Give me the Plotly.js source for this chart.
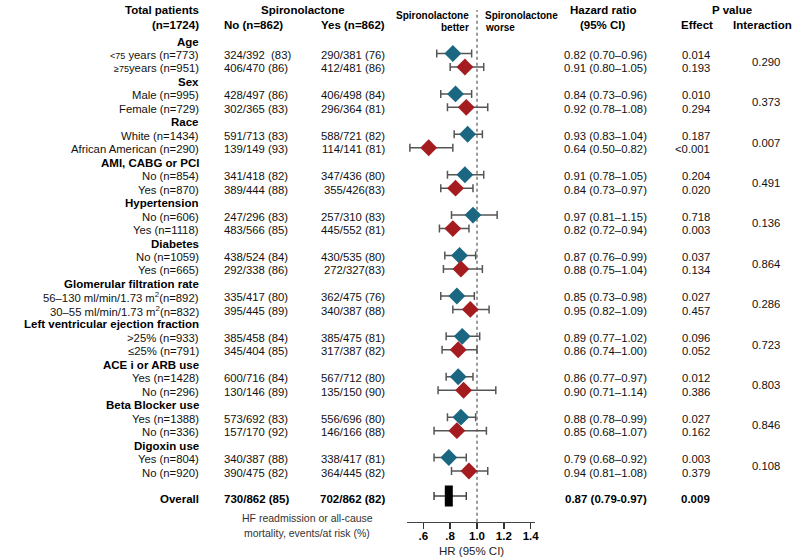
<!DOCTYPE html>
<html><head><meta charset="utf-8">
<script src="https://cdn.plot.ly/plotly-3.0.1.min.js"></script>
<style>html,body{margin:0;padding:0;background:#fff}#chart{width:800px;height:557px}</style>
</head><body><div id="chart"></div>
<script>
// ---------- data ----------
const groups = ["Age","Sex","Race","AMI, CABG or PCI","Hypertension","Diabetes",
  "Glomerular filtration rate","Left ventricular ejection fraction","ACE i or ARB use",
  "Beta Blocker use","Digoxin use"];
const subLabels = [
  "<span style='font-size:9px'>&lt;75</span> years (n=773)", "<span style='font-size:9px'>≥75</span>years (n=951)",
  "Male (n=995)", "Female (n=729)",
  "White (n=1434)", "African American (n=290)",
  "No (n=854)", "Yes (n=870)",
  "No (n=606)", "Yes (n=1118)",
  "No (n=1059)", "Yes (n=665)",
  "56–130 ml/min/1.73 m<sup>2</sup>(n=892)", "30–55 ml/min/1.73 m<sup>2</sup>(n=832)",
  ">25% (n=933)", "≤25% (n=791)",
  "Yes (n=1428)", "No (n=296)",
  "Yes (n=1388)", "No (n=336)",
  "Yes (n=804)", "No (n=920)"];
const noEvents = ["324/392  (83)","406/470 (86)","428/497 (86)","302/365 (83)","591/713 (83)","139/149 (93)",
  "341/418 (82)","389/444 (88)","247/296 (83)","483/566 (85)","438/524 (84)","292/338 (86)",
  "335/417 (80)","395/445 (89)","385/458 (84)","345/404 (85)","600/716 (84)","130/146 (89)",
  "573/692 (83)","157/170 (92)","340/387 (88)","390/475 (82)"];
const yesEvents = ["290/381 (76)","412/481 (86)","406/498 (84)","296/364 (81)","588/721 (82)","114/141 (81)",
  "347/436 (80)","355/426(83)","257/310 (83)","445/552 (81)","430/535 (80)","272/327(83)",
  "362/475 (76)","340/387 (88)","385/475 (81)","317/387 (82)","567/712 (80)","135/150 (90)",
  "556/696 (80)","146/166 (88)","338/417 (81)","364/445 (82)"];
const hr = [0.82,0.91,0.84,0.92,0.93,0.64,0.91,0.84,0.97,0.82,0.87,0.88,0.85,0.95,0.89,0.86,0.86,0.90,0.88,0.85,0.79,0.94];
const lo = [0.70,0.80,0.73,0.78,0.83,0.50,0.78,0.73,0.81,0.72,0.76,0.75,0.73,0.82,0.77,0.74,0.77,0.71,0.78,0.68,0.68,0.81];
const hi = [0.96,1.05,0.96,1.08,1.04,0.82,1.05,0.97,1.15,0.94,0.99,1.04,0.98,1.09,1.02,1.00,0.97,1.14,0.99,1.07,0.92,1.08];
const hrText = ["0.82 (0.70–0.96)","0.91 (0.80–1.05)","0.84 (0.73–0.96)","0.92 (0.78–1.08)","0.93 (0.83–1.04)",
  "0.64 (0.50–0.82)","0.91 (0.78–1.05)","0.84 (0.73–0.97)","0.97 (0.81–1.15)","0.82 (0.72–0.94)",
  "0.87 (0.76–0.99)","0.88 (0.75–1.04)","0.85 (0.73–0.98)","0.95 (0.82–1.09)","0.89 (0.77–1.02)",
  "0.86 (0.74–1.00)","0.86 (0.77–0.97)","0.90 (0.71–1.14)","0.88 (0.78–0.99)","0.85 (0.68–1.07)",
  "0.79 (0.68–0.92)","0.94 (0.81–1.08)"];
const pEffect = ["0.014","0.193","0.010","0.294","0.187","<0.001","0.204","0.020","0.718","0.003","0.037",
  "0.134","0.027","0.457","0.096","0.052","0.012","0.386","0.027","0.162","0.003","0.379"];
const pInteraction = ["0.290","0.373","0.007","0.491","0.136","0.864","0.286","0.723","0.803","0.846","0.108"];
// overall row (marker drawn as in the picture)
const overallNo = "730/862 (85)", overallYes = "702/862 (82)";
const overallHR = 0.79, overallLo = 0.68, overallHi = 0.92;
const overallText = "0.87 (0.79-0.97)", overallP = "0.009";
const tickVals = [0.6,0.8,1.0,1.2,1.4];
const tickText = [".6",".8","1.0","1.2","1.4"];

// ---------- layout helpers ----------
const W = 800, H = 557;
const FONT = "Liberation Sans, Arial, sans-serif";
const px = v => v / W;
const py = v => 1 - v / H;
const subRow = i => 3 * Math.floor(i / 2) + 1 + (i % 2);
const groupRow = g => 3 * g;
const overallRow = 34;
const TXT = -1.5; // text yshift

const ann = [];
function A(o) { ann.push(Object.assign({showarrow:false, yanchor:"middle", font:{family:FONT, size:11.3, color:"#111"}}, o)); }
function bold(size) { return {family:FONT, size:size, color:"#000", weight:"bold"}; }

// headers
A({text:"<b>Total patients</b>", x:px(201), xanchor:"right", xref:"paper", yref:"paper", y:py(10), font:bold(11.5)});
A({text:"<b>(n=1724)</b>", x:px(201), xanchor:"right", xref:"paper", yref:"paper", y:py(25), font:bold(11.5)});
A({text:"<b>Spironolactone</b>", x:px(303), xanchor:"center", xref:"paper", yref:"paper", y:py(10), font:bold(11.5)});
A({text:"<b>No (n=862)</b>", x:px(222), xanchor:"left", xref:"paper", yref:"paper", y:py(25), font:bold(11.5)});
A({text:"<b>Yes (n=862)</b>", x:px(387), xanchor:"right", xref:"paper", yref:"paper", y:py(25), font:bold(11.5)});
A({text:"<b>Spironolactone</b>", x:px(471), xanchor:"right", xref:"paper", yref:"paper", y:py(16), font:bold(10)});
A({text:"<b>better</b>", x:px(471), xanchor:"right", xref:"paper", yref:"paper", y:py(27), font:bold(10)});
A({text:"<b>Spironolactone</b>", x:px(483), xanchor:"left", xref:"paper", yref:"paper", y:py(16), font:bold(10)});
A({text:"<b>worse</b>", x:px(483), xanchor:"left", xref:"paper", yref:"paper", y:py(27), font:bold(10)});
A({text:"<b>Hazard ratio</b>", x:px(603), xanchor:"center", xref:"paper", yref:"paper", y:py(10), font:bold(11.5)});
A({text:"<b>(95% CI)</b>", x:px(603), xanchor:"center", xref:"paper", yref:"paper", y:py(25), font:bold(11.5)});
A({text:"<b>P value</b>", x:px(732), xanchor:"center", xref:"paper", yref:"paper", y:py(10), font:bold(11.5)});
A({text:"<b>Effect</b>", x:px(697), xanchor:"center", xref:"paper", yref:"paper", y:py(25), font:bold(11.5)});
A({text:"<b>Interaction</b>", x:px(762), xanchor:"center", xref:"paper", yref:"paper", y:py(25), font:bold(11.5)});

// groups
groups.forEach((g, k) => {
  A({text:"<b>"+g+"</b>", x:px(201), xanchor:"right", xref:"paper", yref:"y", y:groupRow(k), yshift:TXT, font:bold(11.5)});
  A({text:pInteraction[k], x:px(766), xanchor:"center", xref:"paper", yref:"y", y:groupRow(k)+1.5, yshift:TXT});
});
// sub rows
subLabels.forEach((s, i) => {
  const r = subRow(i);
  A({text:s, x:px(201), xanchor:"right", xref:"paper", yref:"y", y:r, yshift:TXT});
  A({text:noEvents[i], x:px(222), xanchor:"left", xref:"paper", yref:"y", y:r, yshift:TXT});
  A({text:yesEvents[i], x:px(387), xanchor:"right", xref:"paper", yref:"y", y:r, yshift:TXT});
  A({text:hrText[i], x:px(562), xanchor:"left", xref:"paper", yref:"y", y:r, yshift:TXT});
  A({text:pEffect[i].replace("<","&lt;"), x:px(712), xanchor:"right", xref:"paper", yref:"y", y:r, yshift:TXT});
});
// overall
A({text:"<b>Overall</b>", x:px(201), xanchor:"right", xref:"paper", yref:"y", y:overallRow, yshift:TXT, font:bold(11.5)});
A({text:"<b>"+overallNo+"</b>", x:px(222), xanchor:"left", xref:"paper", yref:"y", y:overallRow, yshift:TXT, font:bold(11.5)});
A({text:"<b>"+overallYes+"</b>", x:px(387), xanchor:"right", xref:"paper", yref:"y", y:overallRow, yshift:TXT, font:bold(11.5)});
A({text:"<b>"+overallText+"</b>", x:px(563), xanchor:"left", xref:"paper", yref:"y", y:overallRow, yshift:TXT, font:bold(11.5)});
A({text:"<b>"+overallP+"</b>", x:px(712), xanchor:"right", xref:"paper", yref:"y", y:overallRow, yshift:TXT, font:bold(11.5)});
// footnote
A({text:"HF readmission or all-cause", x:px(307), xanchor:"center", xref:"paper", yref:"paper", y:py(518), font:{family:FONT, size:10.5, color:"#333"}});
A({text:"mortality, events/at risk (%)", x:px(307), xanchor:"center", xref:"paper", yref:"paper", y:py(533), font:{family:FONT, size:10.5, color:"#333"}});
// axis title
A({text:"HR (95% CI)", x:px(471), xanchor:"center", xref:"paper", yref:"paper", y:py(551), font:{family:FONT, size:11.5, color:"#222"}});

// ---------- traces ----------
function trace(idx, color) {
  return {
    type:"scatter", mode:"markers", hoverinfo:"skip",
    x: idx.map(i => hr[i]), y: idx.map(i => subRow(i)),
    error_x: {type:"data", symmetric:false,
      array: idx.map(i => hi[i] - hr[i]), arrayminus: idx.map(i => hr[i] - lo[i]),
      color:"#555", thickness:1.5, width:4},
    marker: {symbol:"diamond", size:13, color:color, line:{width:0}}
  };
}
const firstIdx = hr.map((_, i) => i).filter(i => i % 2 === 0);
const secondIdx = hr.map((_, i) => i).filter(i => i % 2 === 1);
const traces = [
  trace(firstIdx, "#1b6781"),
  trace(secondIdx, "#a51c20"),
  { type:"scatter", mode:"markers", hoverinfo:"skip",
    x:[overallHR], y:[overallRow - 0.15],
    error_x:{type:"data", symmetric:false, array:[overallHi - overallHR], arrayminus:[overallHR - overallLo],
      color:"#444", thickness:1.5, width:4},
    marker:{symbol:"line-ns-open", size:15, color:"#000", line:{width:8, color:"#000"}} }
];

// ---------- layout ----------
const axisBottomPx = 521.7;
const rowPx = 13.47, row0Px = 40;
const layout = {
  width:W, height:H, margin:{l:0, r:0, t:0, b:0},
  paper_bgcolor:"#fff", plot_bgcolor:"rgba(0,0,0,0)",
  showlegend:false,
  font:{family:FONT, color:"#111"},
  xaxis:{
    domain:[406.7/W, 535/W],
    range:[0.4763, 1.432],
    tickmode:"array", tickvals:tickVals, ticktext:tickText,
    ticks:"outside", ticklen:6, tickwidth:1.5, tickcolor:"#333",
    ticklabelstandoff:-3,
    tickfont:{family:FONT, size:11.5, color:"#000", weight:"bold"},
    showline:true, linecolor:"#444", linewidth:1.5,
    showgrid:false, zeroline:false, fixedrange:true
  },
  yaxis:{
    domain:[(H - axisBottomPx)/H, 1],
    range:[(axisBottomPx - row0Px)/rowPx, (0 - row0Px)/rowPx],
    visible:false, showgrid:false, zeroline:false, fixedrange:true
  },
  shapes:[{type:"line", xref:"x", yref:"paper", x0:1, x1:1, y0:(H - axisBottomPx)/H, y1:py(10),
    line:{color:"#999", width:2, dash:"dot"}, layer:"below"}],
  annotations: ann
};
Plotly.newPlot("chart", traces, layout, {staticPlot:true, displayModeBar:false});
</script>
</body></html>
